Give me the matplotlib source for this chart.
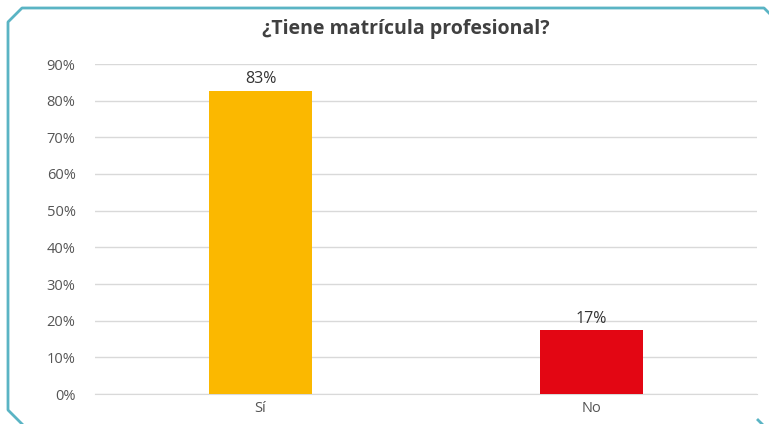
import matplotlib.pyplot as plt
from matplotlib.lines import Line2D
from matplotlib.ticker import PercentFormatter

categories = ["Sí", "No"]
values = [82.6, 17.4]
labels = ["83%", "17%"]
colors = ["#FBB800", "#E30613"]

plt.rcParams['font.family'] = ['Open Sans', 'DejaVu Sans']

W, H = 769, 424
fig = plt.figure(figsize=(W / 100, H / 100), dpi=100)
ax = fig.add_axes([95 / W, 1 - 394 / H, 662 / W, 330 / H])

x = range(len(categories))
ax.bar(x, values, width=0.314, color=colors, zorder=3)
for i, v in enumerate(values):
    ax.text(i, v + 1.0, labels[i], ha='center', va='bottom', fontsize=11.5, color='#333333')

ax.set_xlim(-0.5, 1.5)
ax.set_ylim(0, 90)
ax.set_yticks(range(0, 91, 10))
ax.yaxis.set_major_formatter(PercentFormatter(decimals=0))
ax.set_xticks(list(x))
ax.set_xticklabels(categories)
ax.tick_params(length=0, labelsize=10.5, colors='#555555')
ax.tick_params(axis='y', pad=14)
ax.tick_params(axis='x', pad=5)
ax.grid(axis='y', color='#D9D9D9', linewidth=1, zorder=0)
for s in ['top', 'right', 'left']:
    ax.spines[s].set_visible(False)
ax.spines['bottom'].set_color('#D9D9D9')

fig.text(406 / W, 1 - 29 / H, "¿Tiene matrícula profesional?", ha='center', va='center',
         fontsize=14, fontweight='bold', color='#404040')

# chamfered frame
pts = [(780, 24), (764, 8), (22, 8), (8, 22), (8, 410), (22, 424)]
fx = [p[0] / W for p in pts]
fy = [1 - p[1] / H for p in pts]
fig.add_artist(Line2D(fx, fy, color='#5AB4C4', linewidth=2, transform=fig.transFigure))
fig.add_artist(Line2D([758 / W, 776 / W], [1 - 420 / H, 1 - 438 / H], color='#5AB4C4',
                      linewidth=2, transform=fig.transFigure))

fig.savefig("out.png", dpi=100)
